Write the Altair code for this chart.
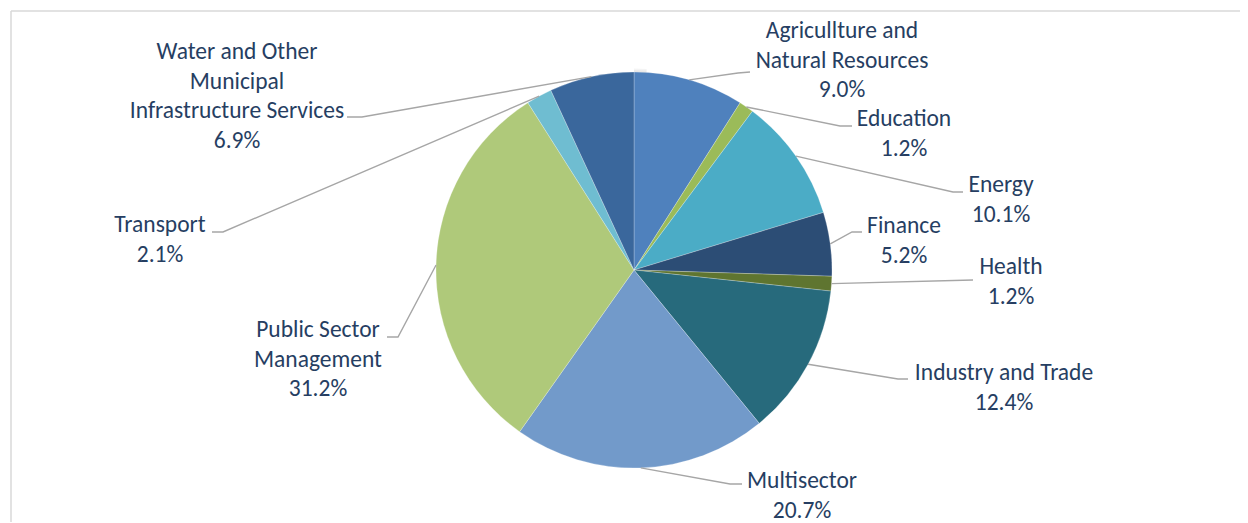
import altair as alt
import numpy as np
import pandas as pd

# ---- data ----
sectors = [
    "Agricullture and Natural Resources", "Education", "Energy", "Finance", "Health",
    "Industry and Trade", "Multisector", "Public Sector Management", "Transport",
    "Water and Other Municipal Infrastructure Services",
]
shares = [9.0, 1.2, 10.1, 5.2, 1.2, 12.4, 20.7, 31.2, 2.1, 6.9]
label_lines = [
    ["Agricullture and", "Natural Resources"],
    ["Education"],
    ["Energy"],
    ["Finance"],
    ["Health"],
    ["Industry and Trade"],
    ["Multisector"],
    ["Public Sector", "Management"],
    ["Transport"],
    ["Water and Other", "Municipal", "Infrastructure Services"],
]
colors = ["#4F81BD", "#9BBB59", "#4BACC6", "#2C4D75", "#5F7530",
          "#276A7C", "#729ACA", "#AFC97A", "#6FBDD1", "#3A679C"]

# ---- layout (pixels, relative to pie centre; y grows downward) ----
W, H = 1232, 514
CX, CY, R = 626, 262, 198
LINE_H = 29.5
# elbow of leader, end of leader, label centre x, first line y
label_layout = [
    ((104, -197), (116, -198), (208, -239)),
    ((206, -144), (218, -144), (270, -151)),
    ((319, -78), (329, -78), (367, -85)),
    ((218, -38), (228, -38), (270, -44)),
    ((339, 10), (339, 10), (377, -3)),
    ((264, 109), (274, 109), (370, 103)),
    ((96, 214), (108, 214), (168, 211)),
    ((-236, 67), (-247, 67), (-316, 60)),
    ((-411, -38), (-422, -38), (-474, -45)),
    ((-272, -153), (-287, -153), (-397, -218)),
]

TEXT_COLOR = "#263E62"
FONT = "Carlito, Lato"

# pie geometry from the data
vals = np.array(shares)
cum = np.cumsum(vals) - vals / 2
mid = cum / vals.sum() * 2 * np.pi

line_rows, text_rows = [], []
for i, s in enumerate(sectors):
    sx = CX + R * np.sin(mid[i])
    sy = CY - R * np.cos(mid[i])
    (ex, ey), (lx, ly), (tx, ty) = label_layout[i]
    pts = [(sx, sy), (CX + ex, CY + ey), (CX + lx, CY + ly)]
    for k, (px, py) in enumerate(pts):
        line_rows.append({"sector": s, "pt": k, "x": px, "y": py})
    lines = label_lines[i] + [f"{shares[i]:.1f}%"]
    for k, t in enumerate(lines):
        text_rows.append({"sector": s, "text": t, "x": CX + tx, "y": CY + ty + k * LINE_H})

pie_df = pd.DataFrame({"sector": sectors, "share": shares, "idx": range(len(sectors))})
lines_df = pd.DataFrame(line_rows)
text_df = pd.DataFrame(text_rows)

xs = alt.Scale(domain=[0, W])
ys = alt.Scale(domain=[H, 0])

# soft shadow around the pie
shadow = alt.layer(*[
    alt.Chart(pd.DataFrame({"v": [1]})).mark_arc(
        outerRadius=R + d, color="#000000", opacity=0.045
    ).encode(theta=alt.Theta("v:Q"), x=alt.value(CX), y=alt.value(CY + 2))
    for d in [1, 2.5, 4, 5.5]
])

pie = alt.Chart(pie_df).mark_arc(outerRadius=R, stroke="#ffffff", strokeWidth=0.4, strokeOpacity=0.6).encode(
    theta=alt.Theta("share:Q", stack=True),
    color=alt.Color("sector:N", scale=alt.Scale(domain=sectors, range=colors), legend=None),
    order=alt.Order("idx:Q"),
    x=alt.value(CX), y=alt.value(CY),
)

leaders = alt.Chart(lines_df).mark_line(color="#A6A6A6", strokeWidth=1.4).encode(
    x=alt.X("x:Q", scale=xs, axis=None),
    y=alt.Y("y:Q", scale=ys, axis=None),
    detail="sector:N",
    order="pt:Q",
)

labels = alt.Chart(text_df).mark_text(
    font=FONT, fontSize=23.5, color=TEXT_COLOR, align="center", baseline="middle"
).encode(
    x=alt.X("x:Q", scale=xs, axis=None),
    y=alt.Y("y:Q", scale=ys, axis=None),
    text="text:N",
)

border_top = alt.Chart(pd.DataFrame({"v": [1]})).mark_rule(color="#D9D9D9", strokeWidth=1.5).encode(
    x=alt.value(3), x2=alt.value(W), y=alt.value(3)
)
border_left = alt.Chart(pd.DataFrame({"v": [1]})).mark_rule(color="#D9D9D9", strokeWidth=1.5).encode(
    x=alt.value(3), y=alt.value(3), y2=alt.value(H)
)

chart = alt.layer(border_top, border_left, shadow, pie, leaders, labels).properties(
    width=W, height=H, padding=0, autosize=alt.AutoSizeParams(type="none")
).configure_view(stroke=None)

chart.save("out.html", embed_options={"renderer": "svg", "actions": False})
